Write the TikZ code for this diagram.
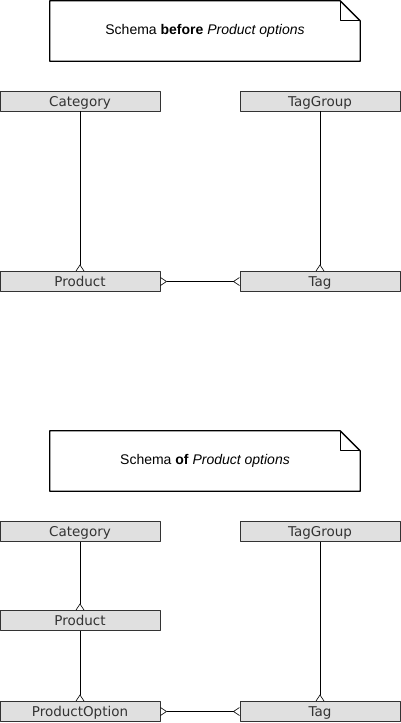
\documentclass[tikz,border=0pt]{standalone}
\usepackage{fontspec}
\setmainfont{Liberation Sans}
\newfontfamily\boxfont{DejaVu Sans}
\usetikzlibrary{arrows.meta,positioning}
\definecolor{boxgray}{RGB}{224,224,224}
\definecolor{textgray}{RGB}{51,51,51}
\begin{document}
\begin{tikzpicture}[x=1pt,y=-1pt, line join=round, >={Straight Barb[reversed,length=6pt,width=8pt]},font=\fontsize{14}{16}\selectfont]
	\tikzset{entity/.style={draw=black!80,fill=boxgray,minimum width=160pt,minimum height=20pt,inner sep=0pt,text height=10pt,text depth=0pt,font=\boxfont\fontsize{13.5}{15}\selectfont,text=textgray},
		notebox/.style={minimum width=310pt,minimum height=60pt,inner sep=0pt},
		rel/.style={draw=black,line width=0.6pt}}
	\useasboundingbox (0,0) rectangle (401,723);
	\def\fold{20}
	\def\notefold#1{\draw[line width=1.3pt,fill=white] (#1.north west)--([xshift=-\fold]#1.north east)--([yshift=-\fold]#1.north east)--(#1.south east)--(#1.south west)--cycle;
		\draw[line width=1pt] ([xshift=-\fold]#1.north east)--([xshift=-\fold,yshift=-\fold]#1.north east)--([yshift=-\fold]#1.north east);}
	% before
	\node[notebox] (noteA) at (205,31) {};
	\notefold{noteA}
	\node at (noteA) {Schema \textbf{before} \textit{Product options}};
	\node[entity] (catA) at (80,101) {Category};
	\node[entity] (tgA) at (320,101) {TagGroup};
	\node[entity] (prodA) at (80,281.5) {Product};
	\node[entity] (tagA) at (320,281.5) {Tag};
	\draw[rel,->] (catA)--(prodA);
	\draw[rel,->] (tgA)--(tagA);
	\draw[rel,<->] (prodA)--(tagA);
	% with options
	\node[notebox] (noteB) at (205,461) {};
	\notefold{noteB}
	\node at (noteB) {Schema \textbf{of} \textit{Product options}};
	\node[entity] (catB) at (80,531.5) {Category};
	\node[entity] (tgB) at (320,531.5) {TagGroup};
	\node[entity] (prodB) at (80,620.5) {Product};
	\node[entity] (optB) at (80,711.5) {ProductOption};
	\node[entity] (tagB) at (320,711.5) {Tag};
	\draw[rel,->] (catB)--(prodB);
	\draw[rel,->] (prodB)--(optB);
	\draw[rel,->] (tgB)--(tagB);
	\draw[rel,<->] (optB)--(tagB);
\end{tikzpicture}
\end{document}
